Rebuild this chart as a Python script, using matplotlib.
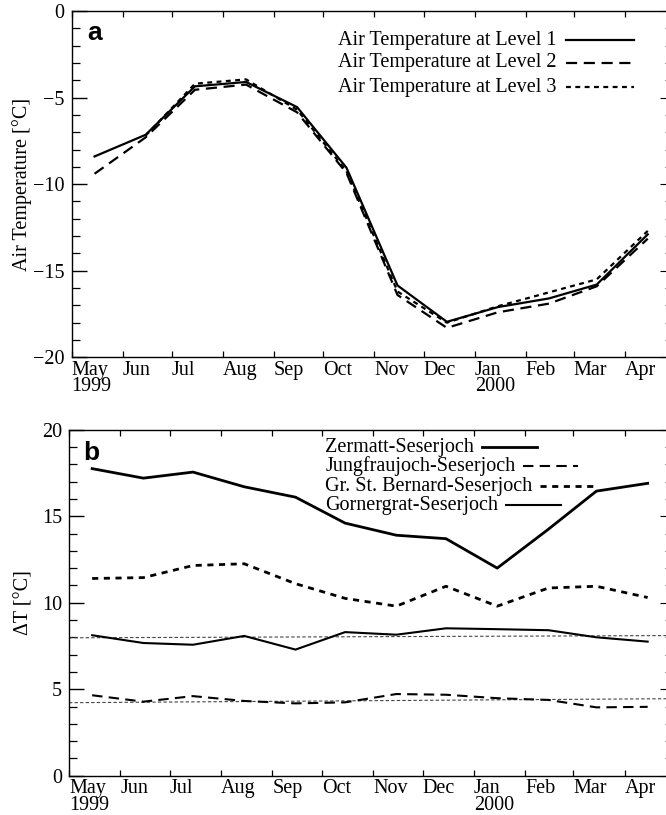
import numpy as np
import matplotlib
matplotlib.use('Agg')
import matplotlib.pyplot as plt
from matplotlib.ticker import MultipleLocator, FixedLocator
from datetime import datetime

FS = 14.5
plt.rcParams['font.family'] = ['Liberation Serif', 'DejaVu Serif']
plt.rcParams['font.size'] = FS

# mid-month sample dates, May 1999 - Apr 2000
dates = ['1999-05-15', '1999-06-15', '1999-07-15', '1999-08-15', '1999-09-15', '1999-10-15',
         '1999-11-15', '1999-12-15', '2000-01-15', '2000-02-15', '2000-03-15', '2000-04-15']
month_starts = ['1999-05-01', '1999-06-01', '1999-07-01', '1999-08-01', '1999-09-01', '1999-10-01',
                '1999-11-01', '1999-12-01', '2000-01-01', '2000-02-01', '2000-03-01', '2000-04-01']
month_labels = ['May\n1999', 'Jun', 'Jul', 'Aug', 'Sep', 'Oct', 'Nov', 'Dec', 'Jan\n2000', 'Feb', 'Mar', 'Apr']
x_range = ['1999-05-01', '2000-04-27']

# panel a: air temperature [C]
level1 = [-8.4, -7.15, -4.35, -4.1, -5.55, -9.05, -15.85, -17.95, -17.1, -16.6, -15.8, -12.9]
level2 = [-9.4, -7.3, -4.55, -4.25, -5.85, -9.35, -16.4, -18.3, -17.4, -16.9, -15.9, -13.15]
level3 = [np.nan, -7.2, -4.2, -3.95, -5.7, -9.25, -16.2, -18.0, -17.05, -16.25, -15.5, -12.7]

# panel b: temperature differences [C]
zermatt = [17.75, 17.2, 17.55, 16.7, 16.1, 14.6, 13.9, 13.7, 12.0, 14.25, 16.45, 16.9]
jungfrau = [4.65, 4.28, 4.6, 4.32, 4.18, 4.24, 4.72, 4.68, 4.48, 4.38, 3.95, 3.98]
bernard = [11.4, 11.45, 12.15, 12.25, 11.1, 10.25, 9.8, 10.95, 9.8, 10.85, 10.95, 10.3]
gorner = [8.12, 7.67, 7.57, 8.08, 7.29, 8.3, 8.15, 8.52, 8.47, 8.41, 8.0, 7.75]
# thin reference (trend) lines, values at the two ends of the axis
trend_gorner = [7.97, 8.1]
trend_jungfrau = [4.22, 4.45]


def to_dt(lst):
    return [datetime.strptime(s, '%Y-%m-%d') for s in lst]


x = to_dt(dates)
ticks = to_dt(month_starts)
xr = to_dt(x_range)

W, H = 666, 815
fig = plt.figure(figsize=(W / 100, H / 100), dpi=100)
ax1 = fig.add_axes([71.5 / W, 1 - 357.3 / H, (667.5 - 71.5) / W, 346.3 / H])
ax2 = fig.add_axes([69 / W, 1 - 775.7 / H, (667.5 - 69) / W, 346.0 / H])


def style_axes(ax, ylim, ylabel, label_x):
    ax.set_xlim(xr)
    ax.set_ylim(ylim)
    ax.xaxis.set_major_locator(FixedLocator(matplotlib.dates.date2num(ticks)))
    ax.set_xticklabels(month_labels)
    for t in ax.get_xticklabels():
        t.set_ha('left')
        t.set_linespacing(0.82)
    ax.yaxis.set_major_locator(MultipleLocator(5))
    ax.yaxis.set_minor_locator(MultipleLocator(1))
    ax.tick_params(axis='x', which='major', direction='in', top=True, length=4, width=0.9, pad=2.5)
    ax.tick_params(axis='x', which='minor', bottom=False, top=False)
    ax.tick_params(axis='y', which='major', direction='in', length=11, width=1, pad=5)
    ax.tick_params(axis='y', which='minor', direction='in', length=6, width=0.9)
    sec = ax.secondary_yaxis('right')
    sec.yaxis.set_major_locator(MultipleLocator(5))
    sec.yaxis.set_minor_locator(MultipleLocator(1))
    sec.tick_params(which='major', direction='in', length=6, labelright=False)
    sec.tick_params(which='minor', direction='in', length=2.5, labelright=False)
    for s in ax.spines.values():
        s.set_linewidth(1.0)
    ax.set_ylabel(ylabel, fontsize=FS)
    ax.yaxis.set_label_coords(label_x, 0.5)


def legend_rows(ax, labels, styles, x0, ys, gap, length):
    rend = fig.canvas.get_renderer()
    inv = ax.transAxes.inverted()
    for lab, st, y in zip(labels, styles, ys):
        t = ax.text(x0, y, lab, transform=ax.transAxes, ha='left', va='center', fontsize=FS)
        bb = t.get_window_extent(renderer=rend)
        xa = inv.transform((bb.x1 + gap, 0))[0]
        xb = inv.transform((bb.x1 + gap + length, 0))[0]
        ax.plot([xa, xb], [y, y], transform=ax.transAxes, color='black', clip_on=False, **st)


# ---- panel a ----
sty_a = [dict(lw=1.6, ls='-'), dict(lw=1.6, ls=(0, (5, 3))), dict(lw=1.6, ls=(0, (2.2, 2)))]
for vals, st in zip([level1, level2, level3], sty_a):
    ax1.plot(x, vals, color='black', **st)
style_axes(ax1, (-20, 0), 'Air Temperature [°C]', -0.066)
ax1.text(0.026, 0.916, 'a', transform=ax1.transAxes, fontsize=19, fontweight='bold',
         family=['Liberation Sans', 'DejaVu Sans'], va='baseline')
legend_rows(ax1, ['Air Temperature at Level 1', 'Air Temperature at Level 2', 'Air Temperature at Level 3'],
            sty_a, 0.4476, [0.916, 0.850, 0.780], 9, 68)

# ---- panel b ----
ax2.plot(xr, trend_gorner, color='#444444', lw=0.8, ls=(0, (3, 2)))
ax2.plot(xr, trend_jungfrau, color='#444444', lw=0.8, ls=(0, (3, 2)))
sty_b = [dict(lw=2.0, ls='-'), dict(lw=1.5, ls=(0, (5, 3))), dict(lw=2.0, ls=(0, (2.2, 2))), dict(lw=1.5, ls='-')]
for vals, st in zip([zermatt, jungfrau, bernard, gorner], sty_b):
    ax2.plot(x, vals, color='black', **st)
style_axes(ax2, (0, 20), 'ΔT [°C]', -0.060)
ax2.text(0.023, 0.912, 'b', transform=ax2.transAxes, fontsize=19, fontweight='bold',
         family=['Liberation Sans', 'DejaVu Sans'], va='baseline')
legend_rows(ax2, ['Zermatt-Seserjoch', 'Jungfraujoch-Seserjoch', 'Gr. St. Bernard-Seserjoch', 'Gornergrat-Seserjoch'],
            sty_b, 0.428, [0.950, 0.895, 0.837, 0.782], 8, 55)

fig.savefig('out.png', dpi=100)
